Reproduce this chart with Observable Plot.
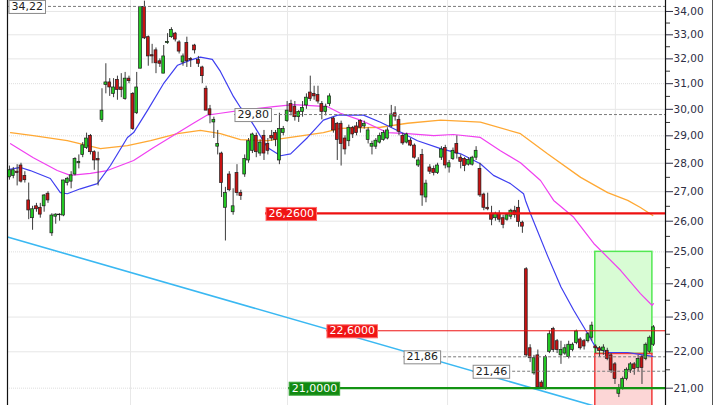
<!DOCTYPE html>
<html><head><meta charset="utf-8">
<script src="https://cdn.jsdelivr.net/npm/d3@7"></script>
<script src="https://cdn.jsdelivr.net/npm/@observablehq/plot@0.6"></script>
<style>
html,body{margin:0;padding:0;background:#fff;}
#wrap{position:relative;width:720px;height:405px;overflow:hidden;background:#fff;}
#edge{position:absolute;left:712px;top:0;width:1px;height:405px;background:#555;}
svg{display:block;}
</style></head><body>
<div id="wrap"><div id="edge"></div></div>
<script>
// ---- candle data (index = trading session) ----
const open  = [27.5,27.55,27.7,27.92,27.55,26.7,26.1,26.5,26.45,26.5,26.93,25.6,26.15,26.2,26.19,27.3,27.35,27.6,28.0,28.3,28.55,29.0,28.4,28.15,29.6,30.95,31.05,30.6,31.15,30.85,30.4,31.2,30.6,29.85,31.6,34.2,32.9,32.15,32.35,31.9,31.4,32.65,32.9,33.05,32.68,31.85,32.65,32.0,32.55,31.95,31.65,30.8,30.0,29.5,28.6,28.35,26.45,27.6,26.3,27.65,26.95,27.6,28.1,28.45,29.0,28.35,29.0,28.7,29.0,29.1,28.1,29.1,29.55,30.2,30.1,29.7,29.9,30.15,30.65,30.6,30.55,30.2,29.9,30.2,29.65,29.45,29.45,28.9,28.8,29.3,29.35,29.55,29.35,28.85,28.6,28.6,28.75,28.85,28.9,29.35,29.85,29.6,29.0,28.75,28.82,28.64,27.92,28.3,26.8,27.85,27.8,27.65,28.2,28.55,27.85,28.15,28.7,28.2,28.15,27.95,27.95,28.2,27.8,26.9,26.45,26.25,26.1,26.25,26.1,26.05,26.15,26.35,26.45,25.95,24.45,22.1,21.4,21.9,21.15,21.0,22.0,22.65,22.3,21.9,21.95,21.85,22.05,22.25,22.35,22.3,22.3,22.4,22.15,22.1,22.02,22.03,21.9,21.65,20.85,21.0,21.25,21.48,21.65,21.55,21.85,21.8,22.0,22.2];
const high  = [27.9,27.85,27.95,28.0,27.7,27.3,26.5,26.6,26.6,26.9,27.0,26.25,26.25,26.25,27.4,27.5,27.7,28.2,28.3,28.75,29.1,29.05,28.45,28.4,30.8,31.8,31.2,31.2,31.3,31.4,31.45,31.3,30.65,31.45,34.2,34.45,32.95,32.6,32.45,32.0,32.55,33.05,33.3,33.1,32.75,32.2,32.9,32.05,32.6,32.1,31.7,30.9,30.15,29.7,29.2,28.4,27.15,27.7,27.1,27.95,27.05,28.3,28.9,29.1,29.1,28.85,29.2,28.9,29.2,29.2,29.85,29.35,30.3,30.35,30.3,29.95,30.3,30.6,31.3,30.9,30.9,30.3,30.2,30.6,29.7,29.5,29.55,29.0,29.4,29.35,29.5,29.6,29.55,29.3,28.8,28.9,29.1,29.2,29.3,30.15,30.1,29.75,29.1,29.1,28.9,28.7,28.2,28.5,27.4,27.95,27.9,28.0,28.6,28.65,28.1,28.55,29.0,28.3,28.2,28.2,28.25,28.6,28.0,26.95,26.95,26.5,26.3,26.35,26.2,26.25,26.4,26.5,26.7,26.0,24.5,22.2,21.9,22.05,21.2,21.9,22.6,22.7,22.35,22.3,22.2,22.3,22.25,22.62,22.4,22.35,22.55,22.85,22.2,22.15,22.2,22.1,21.95,21.7,21.1,21.3,21.55,21.7,21.7,21.9,21.9,22.25,22.45,22.75];
const low   = [27.4,27.45,27.2,27.3,27.3,26.05,25.7,26.3,26.1,26.3,26.6,25.5,25.9,26.0,26.15,27.2,27.1,27.55,27.8,28.2,28.5,28.3,27.75,27.2,29.5,30.6,30.5,30.45,30.35,30.45,30.35,31.0,29.2,29.8,31.6,32.8,31.7,31.8,31.4,31.65,31.4,32.6,32.85,32.7,32.2,31.7,31.65,31.65,32.2,31.65,31.0,29.95,29.45,28.9,28.3,26.8,25.35,27.0,26.2,26.85,26.7,27.5,28.0,28.35,28.2,28.25,28.1,28.3,28.8,28.6,27.95,29.0,29.5,29.75,29.55,29.5,29.7,30.0,30.3,30.35,30.2,29.6,29.75,30.1,29.1,28.1,27.9,28.3,28.6,28.9,29.0,29.1,29.25,28.7,28.3,28.5,28.7,28.8,28.85,29.3,29.55,29.0,28.65,28.7,28.6,28.15,27.85,26.5,26.62,27.6,27.55,27.6,28.1,27.8,27.65,28.1,28.15,27.8,27.7,27.9,27.9,28.1,26.8,26.35,26.35,25.85,26.0,25.95,25.75,26.0,26.05,26.1,25.8,25.6,21.85,21.7,21.35,20.98,20.98,20.95,21.95,21.98,21.95,21.65,21.9,21.8,22.0,22.2,22.05,22.05,22.25,22.3,21.95,21.85,21.9,21.75,21.4,21.1,20.75,20.95,21.2,21.4,21.35,21.45,21.1,21.75,21.95,22.15];
const close = [27.75,27.75,27.65,27.35,27.4,26.36,26.4,26.4,26.22,26.87,26.7,26.19,26.22,26.22,27.39,27.45,27.57,28.15,28.05,28.65,28.9,28.4,28.1,28.1,29.95,31.05,30.85,30.85,30.75,30.75,31.2,31.1,29.25,30.85,34.2,32.85,32.1,32.1,31.82,31.8,32.1,32.7,33.2,32.8,32.3,32.1,31.9,31.95,32.35,31.8,31.3,29.95,29.78,29.6,28.7,27.3,26.95,27.05,26.5,26.95,26.85,28.15,28.8,29.05,28.4,28.75,28.35,28.45,28.9,28.85,29.25,29.25,29.95,29.9,29.7,29.9,30.05,30.45,30.4,30.5,30.3,29.9,30.1,30.5,29.2,28.85,28.7,28.5,29.3,29.05,29.1,29.3,29.45,29.2,28.7,28.82,29.0,29.1,29.2,29.8,29.72,29.15,28.72,29.05,28.64,28.2,28.1,26.87,27.28,27.7,27.65,27.92,28.5,27.92,28.0,28.45,28.35,28.05,27.9,28.12,28.2,28.45,26.87,26.45,26.4,26.05,26.25,26.05,25.88,26.2,26.35,26.2,25.97,25.82,21.9,21.82,21.82,21.02,21.02,21.85,22.5,22.05,22.05,22.05,22.1,22.2,22.2,22.58,22.1,22.15,22.5,22.75,22.1,22.02,22.12,21.8,21.48,21.25,21.0,21.25,21.5,21.65,21.52,21.8,21.55,22.2,22.4,22.7];

// ---- moving averages: [session, price] ----
const maShort = [[0,27.78],[2.9,27.85],[5.4,27.74],[10.6,27.46],[13.2,26.97],[15,26.93],[18.4,27.1],[22.8,27.28],[26.2,27.92],[30.6,28.94],[32.2,29.12],[35.8,29.96],[39.9,30.99],[43.6,31.74],[46.9,31.95],[49.5,32.07],[52.6,31.98],[54.7,31.49],[58.1,30.49],[59.9,30.07],[62.5,29.59],[66.9,28.57],[70.3,28.27],[72.9,28.34],[77.3,28.94],[81.4,29.59],[85.1,29.78],[91.8,29.78],[96.2,29.51],[100.6,29.2],[105.8,28.82],[111.8,28.53],[117,28.34],[122.1,27.98],[125.5,27.57],[129.9,27.28],[133.3,26.93],[133.8,26.7],[135.1,26.25],[139.5,24.88],[143,23.9],[146.3,23.2],[149.9,22.52],[152,22.12],[155.1,21.98],[160.3,21.98],[163.7,21.92],[166.8,21.87]];
const maMid = [[0.3,28.71],[6.2,28.2],[12.4,27.74],[15.8,27.57],[21,27.64],[25.4,27.74],[32.2,28.1],[37.3,28.56],[42.5,29.01],[47.7,29.47],[51.3,29.78],[54.7,29.85],[59.9,29.96],[68.5,30.1],[73.7,30.18],[82.5,30.1],[85.8,29.85],[91,29.59],[98,29.12],[103.2,29.08],[110,29.01],[115.1,29.05],[122.1,28.94],[127.3,28.45],[132.5,28.02],[137.7,27.39],[141.1,26.7],[146.3,26.13],[151.5,25.27],[158.5,24.41],[163.6,23.7],[166.6,23.35],[167,23.4]];
const maLong = [[0.3,29.12],[6.2,29.01],[15,28.82],[23.6,28.53],[30.6,28.64],[36.6,28.82],[43.6,29.08],[49.5,29.2],[54.7,29.08],[59.9,28.86],[66.9,28.82],[72.9,28.94],[81.4,29.12],[85.8,29.28],[96.2,29.32],[103.2,29.47],[111.8,29.59],[122.1,29.51],[132.5,29.08],[139.5,28.34],[148.1,27.5],[155.1,26.97],[160.3,26.7],[163.6,26.46],[166.8,26.19]];
const trend = [[-0.5,25.48],[156,20.40]];

// ---- annotations ----
const markPrices = [34.22, 29.80, 21.86, 21.46];   // boxed price marks
const markFrom   = [-0.24, 58.35, 102.2, 120.1];
const levelPrices = [26.26, 22.60, 21.00];         // order levels
const levelFrom   = [66.4, 82.2, 72.4];
const levelKind   = ["sell", "sell", "buy"];
const tradeSpan   = [151.9, 166.7];
const tradePrices = [20.2, 21.94, 25.0];           // stop, entry, target

// ---- axes ----
const yTicks = [21,22,23,24,25,26,27,28,29,30,31,32,33,34];
const yMinor = [21.5,22.5,23.5,24.5,25.5,26.5,27.5,28.5,29.5,30.5,31.5,32.5,33.5];
const gridSolid = [22,23,24,26,27,28,30,32,33,34];
const gridDotted = [21,25,29,31];
const vGrid = [31.4, 72.1, 113.6, 157.1];
const xDomain = [-0.5, 170.1];
const yDomain = [20.54, 34.48];

const candles = open.map((o, i) => ({i, open: o, high: high[i], low: low[i], close: close[i], up: close[i] >= o}));
const marks = markPrices.map((v, k) => ({v, at: markFrom[k]}));
const levels = levelPrices.map((v, k) => ({v, at: levelFrom[k], kind: levelKind[k]}));
const zones = [
  {x1: tradeSpan[0], x2: tradeSpan[1], y1: tradePrices[1], y2: tradePrices[2], kind: "gain"},
  {x1: tradeSpan[0], x2: tradeSpan[1], y1: tradePrices[0], y2: tradePrices[1], kind: "loss"}
];
const fmt2 = v => v.toFixed(2).replace(".", ",");
const fmt4 = v => v.toFixed(4).replace(".", ",");
const xMax = xDomain[1];

const chart = Plot.plot({
  width: 720, height: 405,
  marginLeft: 7, marginRight: 55, marginTop: 0, marginBottom: 0,
  style: {fontFamily: "DejaVu Sans", background: "white"},
  x: {domain: xDomain, axis: null},
  y: {type: "log", domain: yDomain, axis: null},
  marks: [
    Plot.ruleY(gridSolid, {stroke: "#e6e6e6"}),
    Plot.ruleY(gridDotted, {stroke: "#dedede", strokeDasharray: "1,1"}),
    Plot.ruleX(vGrid, {stroke: "#e8e8e8"}),
    Plot.rect(zones.filter(z => z.kind === "gain"), {x1: "x1", x2: "x2", y1: "y1", y2: "y2", fill: "#d8fcd4", stroke: "#52e852", strokeWidth: 1.5}),
    Plot.rect(zones.filter(z => z.kind === "loss"), {x1: "x1", x2: "x2", y1: "y1", y2: "y2", fill: "#fcd6d6", stroke: "#f03a3a", strokeWidth: 1.5, clip: true}),
    Plot.line(trend, {x: d => d[0], y: d => d[1], stroke: "#3ab8f2", strokeWidth: 1.6, clip: true}),
    Plot.line(maLong, {x: d => d[0], y: d => d[1], stroke: "#ffa833", strokeWidth: 1.3}),
    Plot.line(maMid, {x: d => d[0], y: d => d[1], stroke: "#f040f0", strokeWidth: 1.2}),
    Plot.line(maShort, {x: d => d[0], y: d => d[1], stroke: "#3e3ef0", strokeWidth: 1.2}),
    Plot.ruleX(candles, {x: "i", y1: "low", y2: "high", stroke: "#3c3c3c", strokeWidth: 1}),
    Plot.rect(candles, {x1: d => d.i - 0.37, x2: d => d.i + 0.37, y1: "open", y2: "close",
      fill: d => d.up ? "#22c822" : "#c81212", stroke: "#1c1c1c", strokeWidth: 0.7}),
    Plot.ruleY(marks, {y: "v", x1: "at", x2: () => xMax, stroke: "#7a7a7a", strokeDasharray: "3,2"}),
    Plot.ruleY(levels.filter(d => d.kind === "sell" && d.v > 25), {y: "v", x1: "at", x2: () => xMax, stroke: "#ee1111", strokeWidth: 2.2}),
    Plot.ruleY(levels.filter(d => d.kind === "sell" && d.v < 25), {y: "v", x1: "at", x2: () => xMax, stroke: "#ee1111", strokeWidth: 1}),
    Plot.ruleY(levels.filter(d => d.kind === "buy"), {y: "v", x1: "at", x2: () => xMax, stroke: "#139313", strokeWidth: 2.2}),
    Plot.text(marks, {x: "at", y: "v", text: d => fmt2(d.v), textAnchor: "start", dx: 3, fill: "#222", fontSize: 11, className: "tag-plain"}),
    Plot.text(levels.filter(d => d.kind === "sell"), {x: "at", y: "v", text: d => fmt4(d.v), textAnchor: "start", dx: 3, fill: "white", fontSize: 11, className: "tag-red"}),
    Plot.text(levels.filter(d => d.kind === "buy"), {x: "at", y: "v", text: d => fmt4(d.v), textAnchor: "start", dx: 3, fill: "white", fontSize: 11, className: "tag-green"}),
    Plot.ruleX(xDomain, {stroke: "#111", strokeWidth: 1.2}),
    Plot.axisY(yMinor, {anchor: "right", tickSize: 4, tickFormat: () => "", stroke: "#333"}),
    Plot.axisY(yTicks, {anchor: "right", tickSize: 7, tickPadding: 1, tickFormat: fmt2, fontSize: 10.5, color: "#2e2e44"})
  ]
});

const wrap = document.getElementById("wrap");
wrap.prepend(chart);

// draw a box behind every price tag
const tagStyle = {
  "tag-plain": {fill: "#ffffff", stroke: "#8a8a8a", text: "#222"},
  "tag-red": {fill: "#f01414", stroke: "#ff6a6a", text: "#fff"},
  "tag-green": {fill: "#128a12", stroke: "#3aa83a", text: "#fff"}
};
const texts = Array.from(chart.querySelectorAll("text"));
const tagValues = new Map();
marks.forEach(d => tagValues.set(fmt2(d.v), "tag-plain"));
levels.forEach(d => tagValues.set(fmt4(d.v), d.kind === "buy" ? "tag-green" : "tag-red"));
texts.forEach(t => {
  const kind = tagValues.get(t.textContent.trim());
  if (!kind) return;
  const st = tagStyle[kind];
  const bb = t.getBBox();
  const r = document.createElementNS("http://www.w3.org/2000/svg", "rect");
  r.setAttribute("x", bb.x - 2.5);
  r.setAttribute("y", bb.y + 0.5);
  r.setAttribute("width", bb.width + 5);
  r.setAttribute("height", bb.height);
  r.setAttribute("fill", st.fill);
  r.setAttribute("stroke", st.stroke);
  r.setAttribute("stroke-width", 1);
  const tr = t.getAttribute("transform");
  if (tr) r.setAttribute("transform", tr);
  t.parentNode.insertBefore(r, t);
  t.setAttribute("fill", st.text);
});
</script></body></html>
